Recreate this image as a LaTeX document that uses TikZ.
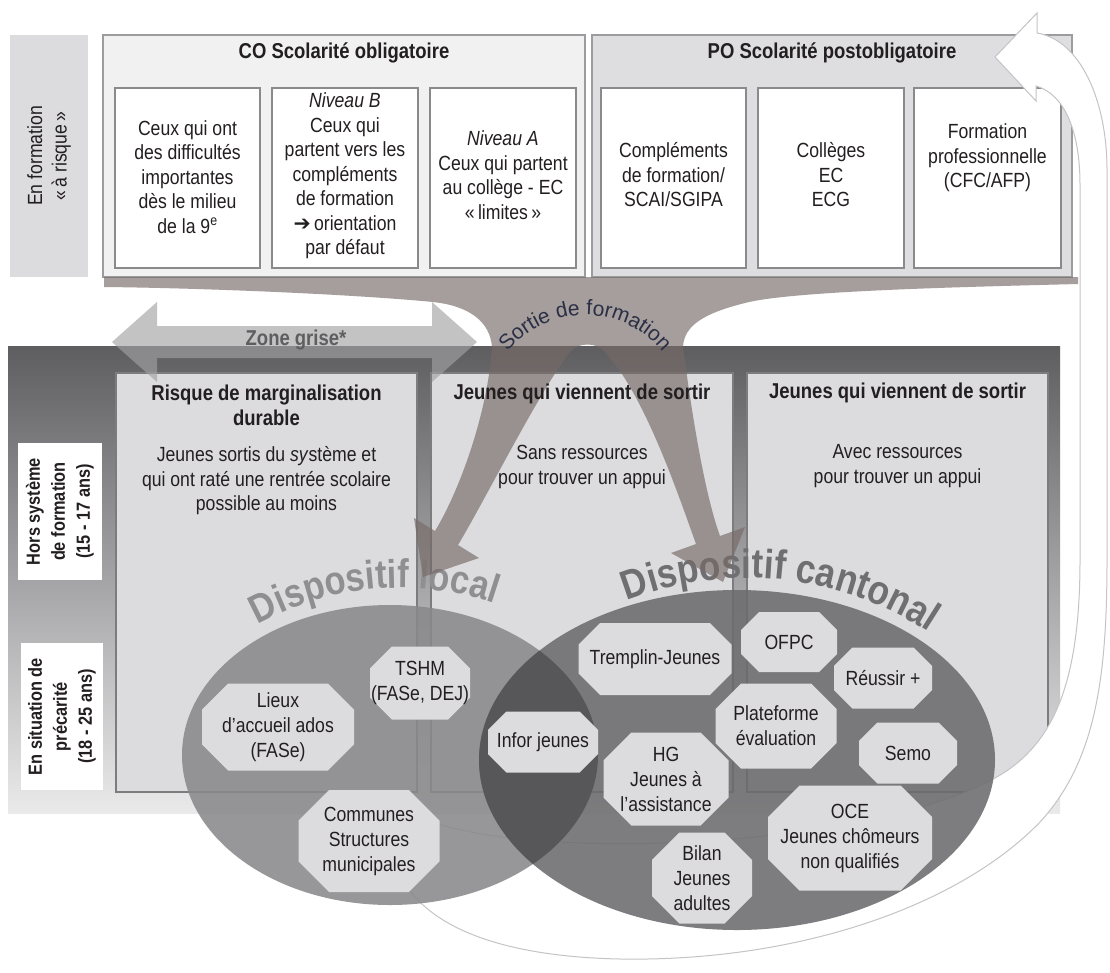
\documentclass[tikz,border=0pt]{standalone}
\usepackage{fontspec}
\setmainfont{Liberation Sans}[FakeStretch=0.86]
\newfontfamily\arrowglyph{DejaVu Sans}
\newfontfamily\arcfont{Liberation Sans}
\usetikzlibrary{calc,decorations.text}

\definecolor{ink}{HTML}{231F20}
\definecolor{labelgrey}{HTML}{DCDCDE}
\definecolor{cofill}{HTML}{F1F1F1}
\definecolor{pofill}{HTML}{DEDEE0}
\definecolor{outerline}{HTML}{9C9C9E}
\definecolor{boxline}{HTML}{8A8A8C}
\definecolor{lowfill}{HTML}{DCDCDE}
\definecolor{lowline}{HTML}{7C7C7E}
\definecolor{paneltop}{HTML}{5E5E61}
\definecolor{panelmid}{HTML}{ABABAD}
\definecolor{panelbot}{HTML}{EAEAEB}
\definecolor{brownc}{HTML}{766A67}
\definecolor{zonec}{HTML}{A2A2A4}
\definecolor{zonetxt}{HTML}{5E5E60}
\definecolor{localc}{HTML}{89898B}
\definecolor{cantc}{HTML}{6C6C6E}
\definecolor{lensc}{HTML}{565658}
\definecolor{octc}{HTML}{DCDCDE}
\definecolor{loopline}{HTML}{C4C4C6}
\definecolor{dispoloc}{HTML}{8F8F91}
\definecolor{dispocant}{HTML}{6F6F72}
\definecolor{navy}{HTML}{2A2F45}

\newcommand\txtbody{\fontsize{20.5}{24.5}\selectfont}
\newcommand\txthead{\fontsize{21.5}{25}\selectfont\bfseries}
\newcommand\txtside{\fontsize{19}{25}\selectfont\bfseries}
\newcommand\txtocta{\fontsize{20.5}{25}\selectfont}
\newcommand\txtdispoL{\fontsize{40}{42}\selectfont\bfseries}
\newcommand\txtdispoC{\fontsize{41}{43}\selectfont\bfseries}
\newcommand\txtsortie{\arcfont\fontsize{21}{23}\selectfont}

% octagon: name, centre x, centre y, width, height, text
\newcommand\octa[6]{%
  \fill[octc] (#2-#4/2+0.3*#5,#3-#5/2) -- (#2+#4/2-0.3*#5,#3-#5/2)
    -- (#2+#4/2,#3-0.2*#5) -- (#2+#4/2,#3+0.2*#5)
    -- (#2+#4/2-0.3*#5,#3+#5/2) -- (#2-#4/2+0.3*#5,#3+#5/2)
    -- (#2-#4/2,#3+0.2*#5) -- (#2-#4/2,#3-0.2*#5) -- cycle;
  \node[octtxt] (#1) at (#2,#3) {#6};}

\begin{document}
\begin{tikzpicture}[x=1pt,y=-1pt,
  bare/.style={inner sep=0pt, outer sep=0pt},
  obox/.style={bare, draw=outerline, line width=1.5pt},
  ibox/.style={bare, draw=boxline, line width=1.2pt, fill=white},
  lbox/.style={bare, draw=lowline, line width=1.2pt, fill=lowfill},
  slabel/.style={bare, fill=white},
  bodytxt/.style={bare, align=center, text=ink, font=\txtbody},
  sidetxt/.style={bare, align=center, text=ink, font=\txtside, rotate=90},
  headtxt/.style={bare, align=center, text=ink, font=\txthead},
  octtxt/.style={bare, align=center, text=ink, font=\txtocta},
]
\useasboundingbox (0,0) rectangle (1110,972);
\fill[white] (0,0) rectangle (1110,972);

% ---------- upper band: schooling ----------
\node[bare, fill=labelgrey, minimum width=78, minimum height=242] (enform) at (49,156) {};
\node[bodytxt, rotate=90] (enformtxt) at (enform) {En formation\\«\,à risque\,»};

\node[obox, fill=cofill, minimum width=482, minimum height=242] (co) at (344,156) {};
\node[headtxt] (cotitle) at (344,53) {CO Scolarité obligatoire};
\node[obox, fill=pofill, minimum width=480, minimum height=242] (po) at (832,156) {};
\node[headtxt] (potitle) at (832,53) {PO Scolarité postobligatoire};

\node[ibox, minimum width=145, minimum height=180] (co1) at (187.5,178) {};
\node[ibox, minimum width=146, minimum height=180] (co2) at (345,178) {};
\node[ibox, minimum width=146, minimum height=180] (co3) at (503,178) {};
\node[ibox, minimum width=145, minimum height=180] (po1) at (673.5,178) {};
\node[ibox, minimum width=146, minimum height=180] (po2) at (831,178) {};
\node[ibox, minimum width=147, minimum height=180] (po3) at (987.5,178) {};

\node[bodytxt] (co1t) at (187.5,177) {Ceux qui ont\\des difficultés\\importantes\\dès le milieu\\de la 9\textsuperscript{e}};
\node[bodytxt] (co2t) at (345,176) {\textit{Niveau B}\\Ceux qui\\partent vers les\\compléments\\de formation\\{\arrowglyph\char"2794}\,orientation\\par défaut};
\node[bodytxt] (co3t) at (503,175) {\textit{Niveau A}\\Ceux qui partent\\au collège - EC\\«\,limites\,»};
\node[bodytxt] (po1t) at (673.5,175) {Compléments\\de formation/\\SCAI/SGIPA};
\node[bodytxt] (po2t) at (831,175) {Collèges\\EC\\ECG};
\node[bodytxt] (po3t) at (987.5,158) {Formation\\professionnelle\\(CFC/AFP)};

% ---------- lower band: out of school ----------
\shade[top color=paneltop, middle color=panelmid, bottom color=panelbot] (8,346) rectangle (1060,813);

\node[slabel, minimum width=84, minimum height=137] (hors) at (60,511.5) {};
\node[sidetxt] (horstxt) at (hors) {Hors système\\de formation\\(15 - 17 ans)};
\node[slabel, minimum width=82, minimum height=147] (prec) at (62,716.5) {};
\node[sidetxt] (prectxt) at (prec) {En situation de\\précarité\\(18 - 25 ans)};

\node[lbox, minimum width=301, minimum height=419] (risk) at (266.5,582.5) {};
\node[lbox, minimum width=302, minimum height=419] (sans) at (582,582.5) {};
\node[lbox, minimum width=301, minimum height=419] (avec) at (897.5,582.5) {};

% grey zone double arrow
\fill[zonec, opacity=0.64] (112,342) -- (157,302) -- (157,326) -- (432,326) -- (432,302)
  -- (477,342) -- (432,382) -- (432,358) -- (157,358) -- (157,382) -- cycle;
\node[headtxt, text=zonetxt] (zone) at (296,340) {Zone grise*};

% return arrow back to post-compulsory schooling
\filldraw[fill=white, draw=loopline, line width=1pt]
  (400,875)
  .. controls (430,935) and (520,957) .. (620,959)
  .. controls (800,962) and (960,905) .. (1040,822)
  .. controls (1095,762) and (1107,680) .. (1107,560)
  -- (1107,170)
  .. controls (1107,100) and (1080,40) .. (1037,33)
  -- (1037,13) -- (995,57) -- (1036,101) -- (1036,86)
  .. controls (1064,94) and (1080,130) .. (1080,185)
  -- (1080,560)
  .. controls (1080,680) and (1055,745) .. (995,778)
  .. controls (900,830) and (700,850) .. (560,842)
  .. controls (480,838) and (430,825) .. (405,810)
  -- cycle;

% local and cantonal schemes
\fill[localc, opacity=0.88] (390,755) ellipse [x radius=208, y radius=150];
\fill[cantc, opacity=0.88] (737,760) ellipse [x radius=258, y radius=170];
\begin{scope}
  \clip (737,760) ellipse [x radius=258, y radius=170];
  \fill[lensc, opacity=0.95] (390,755) ellipse [x radius=208, y radius=150];
\end{scope}

\octa{lieux}{278}{727}{152}{87}{Lieux\\d'accueil ados\\(FASe)}
\octa{tshm}{420}{683}{100}{73}{TSHM\\(FASe, DEJ)}
\octa{communes}{369}{841}{141}{102}{Communes\\Structures\\municipales}
\octa{infor}{543}{742}{110}{61}{Infor jeunes}
\octa{tremplin}{655}{659}{153}{72}{Tremplin-Jeunes}
\octa{ofpc}{789}{642}{96}{60}{OFPC}
\octa{reussir}{883}{678}{98}{61}{Réussir +}
\octa{plateforme}{776}{726}{121}{85}{Plateforme\\évaluation}
\octa{semo}{908}{753}{98}{61}{Semo}
\octa{hg}{666}{779}{125}{93}{HG\\Jeunes à\\l'assistance}
\octa{oce}{850}{838}{164}{105}{OCE\\Jeunes chômeurs\\non qualifiés}
\octa{bilan}{702}{878}{100}{91}{Bilan\\Jeunes\\adultes}

% curved headings of the two schemes
\coordinate (locc) at (400,883);
\coordinate (cantcc) at (747,911);
\coordinate (sortc) at (585,415);
\path[decorate, decoration={text along path, text align=center,
  text={|\txtdispoL\color{dispoloc}|Dispositif local}}]
  ($(locc)+(135:295pt)$) arc[start angle=135, end angle=55, radius=295pt];
\path[decorate, decoration={text along path, text align=center,
  text={|\txtdispoC\color{dispocant}|Dispositif cantonal}}]
  ($(cantcc)+(129:333pt)$) arc[start angle=129, end angle=39, radius=333pt];

% leaving school: flow splitting into two arrows
\fill[brownc, opacity=0.65]
  (104,277) -- (1078,277) -- (1078,284)
  .. controls (960,287) and (790,291) .. (745,303)
  .. controls (705,313) and (684,325) .. (683,347)
  .. controls (690,400) and (703,489) .. (720,536)
  -- (745,527) -- (723,582) -- (671,553) -- (696,544)
  .. controls (679,497) and (645,395) .. (605,352)
  .. controls (597,342) and (578,342) .. (570,352)
  .. controls (540,390) and (484,502) .. (458,545)
  -- (479,558) -- (423,577) -- (414,518) -- (435,531)
  .. controls (461,488) and (488,410) .. (492,347)
  .. controls (490,322) and (470,306) .. (433,302)
  .. controls (350,294) and (200,288) .. (104,287) -- cycle;

\path[decorate, decoration={text along path, text align=center,
  text={|\txtsortie\color{navy}|Sortie de formation}}]
  ($(sortc)+(160:100pt)$) arc[start angle=160, end angle=20, radius=100pt];

% texts of the three lower boxes
\node[headtxt] (risktitle) at (266.5,405.5) {Risque de marginalisation\\durable};
\node[bodytxt] (risktxt) at (266.5,481) {Jeunes sortis du \textit{sy}stème et\\qui ont raté une rentrée scolaire\\possible au moins};
\node[headtxt] (sanstitle) at (582,394) {Jeunes qui viennent de sortir};
\node[bodytxt] (sanstxt) at (582,467) {Sans ressources\\pour trouver un appui};
\node[headtxt] (avectitle) at (897.5,393) {Jeunes qui viennent de sortir};
\node[bodytxt] (avectxt) at (897.5,466) {Avec ressources\\pour trouver un appui};
\end{tikzpicture}
\end{document}
